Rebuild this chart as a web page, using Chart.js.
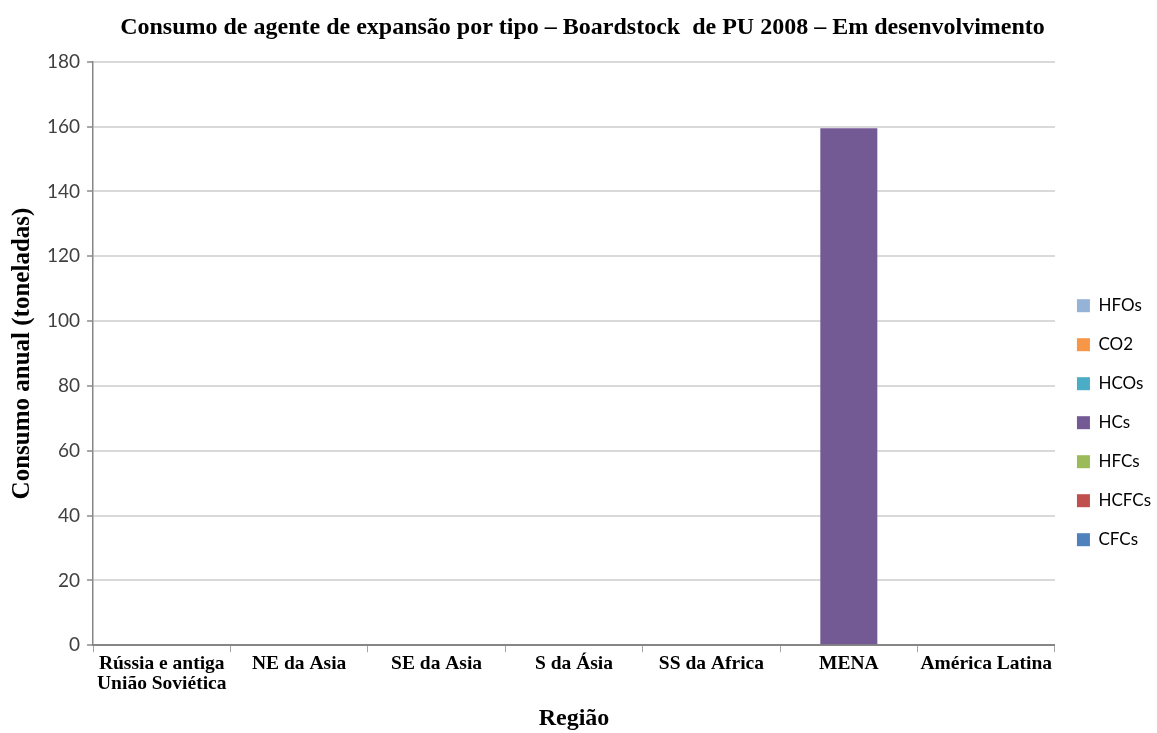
<!DOCTYPE html>
<html>
<head>
<meta charset="utf-8">
<script src="https://cdn.jsdelivr.net/npm/chart.js@4"></script>
<style>
  body { margin: 0; background: #fff; }
  #wrap { width: 1157px; height: 733px; }
</style>
</head>
<body>
<div id="wrap"><canvas id="grafico" width="1157" height="733"></canvas></div>
<script>
// Dados do gráfico
const regioes = [
  ['Rússia e antiga', 'União Soviética'],
  'NE da Asia',
  'SE da Asia',
  'S da Ásia',
  'SS da Africa',
  'MENA',
  'América Latina'
];
const cfcs   = [0, 0, 0, 0, 0, 0, 0];
const hcfcs  = [0, 0, 0, 0, 0, 0, 0];
const hfcs   = [0, 0, 0, 0, 0, 0, 0];
const hcs    = [0, 0, 0, 0, 0, 159.5, 0];
const hcos   = [0, 0, 0, 0, 0, 0, 0];
const co2    = [0, 0, 0, 0, 0, 0, 0];
const hfos   = [0, 0, 0, 0, 0, 0, 0];
const yTicks = [0, 20, 40, 60, 80, 100, 120, 140, 160, 180];

const serif = '"Liberation Serif", "DejaVu Serif", serif';
const sans = 'Lato, "Open Sans", sans-serif';

function serie(label, data, cor) {
  return { label, data, backgroundColor: cor, borderWidth: 0,
           barPercentage: 0.415, categoryPercentage: 1.0 };
}

const ctx = document.getElementById('grafico').getContext('2d');
const grafico = new Chart(ctx, {
  type: 'bar',
  data: {
    labels: regioes,
    datasets: [
      serie('CFCs', cfcs, '#4F81BD'),
      serie('HCFCs', hcfcs, '#C0504D'),
      serie('HFCs', hfcs, '#9BBB59'),
      serie('HCs', hcs, '#735A94'),
      serie('HCOs', hcos, '#4BACC6'),
      serie('CO2', co2, '#F79646'),
      serie('HFOs', hfos, '#95B3D7')
    ]
  },
  options: {
    responsive: false,
    animation: false,
    devicePixelRatio: 1,
    // legenda encostada na borda direita, como no original
    layout: { padding: { left: 4, right: -4, top: 2, bottom: 0 } },
    plugins: {
      title: {
        display: true,
        text: 'Consumo de agente de expansão por tipo – Boardstock  de PU 2008 – Em desenvolvimento',
        color: '#000',
        font: { family: serif, size: 24, weight: 'bold' },
        padding: { top: 11, bottom: 20 }
      },
      legend: {
        position: 'right',
        reverse: true,
        align: 'center',
        title: { display: true, text: ' ', font: { size: 12 }, padding: { top: 96, bottom: 0 } },
        labels: {
          color: '#000',
          font: { family: sans, size: 17 },
          boxWidth: 13,
          boxHeight: 13,
          padding: 22
        }
      },
      tooltip: { enabled: false }
    },
    scales: {
      x: {
        stacked: true,
        grid: { display: true, drawOnChartArea: false, offset: true, color: '#A6A6A6', tickLength: 7 },
        border: { color: '#868686', width: 2 },
        ticks: {
          color: '#000',
          autoSkip: false,
          maxRotation: 0,
          minRotation: 0,
          font: { family: serif, size: 19.5, weight: 'bold', lineHeight: 1.05 },
          padding: 1
        },
        title: {
          display: true,
          text: 'Região',
          color: '#000',
          font: { family: serif, size: 24, weight: 'bold' },
          padding: { top: 9, bottom: 0 }
        }
      },
      y: {
        stacked: true,
        min: 0,
        max: 180,
        afterBuildTicks: axis => { axis.ticks = yTicks.map(v => ({ value: v })); },
        grid: { color: '#D9D9D9', lineWidth: 2, tickLength: 6, tickColor: '#A6A6A6' },
        border: { color: '#868686', width: 1.5 },
        ticks: {
          color: '#404040',
          font: { family: sans, size: 19 },
          padding: 7
        },
        title: {
          display: true,
          text: 'Consumo anual (toneladas)',
          color: '#000',
          font: { family: serif, size: 25, weight: 'bold' },
          padding: { bottom: 2 }
        }
      }
    }
  }
});
</script>
</body>
</html>
